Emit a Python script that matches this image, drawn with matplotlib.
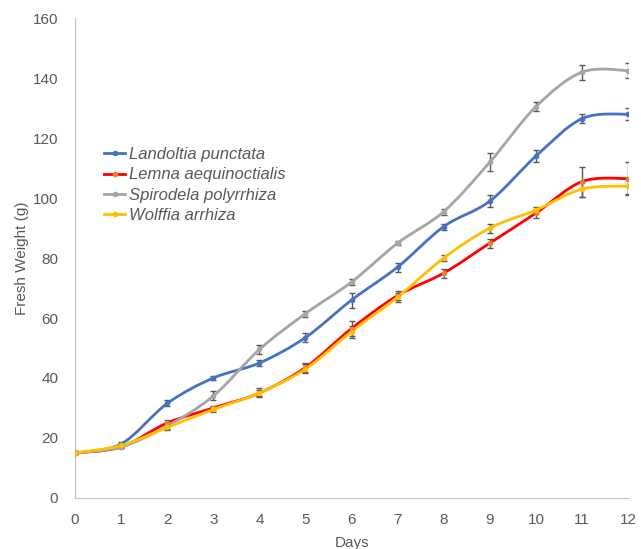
import numpy as np
import matplotlib
matplotlib.use("Agg")
from matplotlib import pyplot as plt
from matplotlib.path import Path
from matplotlib.patches import PathPatch
from matplotlib.lines import Line2D

plt.rcParams['font.family'] = ['Liberation Sans', 'DejaVu Sans']

days = np.arange(0, 13)
names = ["Landoltia punctata", "Lemna aequinoctialis", "Spirodela polyrrhiza", "Wolffia arrhiza"]
colors = ["#4472C4", "#FF0000", "#A5A5A5", "#FFC000"]
marker_colors = ["#4472C4", "#ED7D31", "#A5A5A5", "#FFC000"]

landoltia = [15, 18, 31.5, 40, 45, 53.5, 66, 77, 90.5, 99, 114, 126.5, 128]
lemna = [15, 17, 25, 30, 35, 43.5, 56.5, 67.5, 75, 85, 95, 105.5, 106.5]
spirodela = [15, 17, 24, 34, 49.5, 61.5, 72, 85, 95.5, 112, 130.5, 142, 142.5]
wolffia = [15, 17.5, 23.5, 29.5, 35, 43, 55.5, 67, 80, 90, 96, 103, 104]

landoltia_err = [0.5, 0.8, 1.0, 0.8, 1.0, 1.5, 2.5, 1.5, 1.0, 2.0, 2.0, 1.5, 2.0]
lemna_err = [0.5, 0.5, 1.0, 0.8, 1.0, 1.5, 2.5, 1.5, 1.5, 1.5, 1.5, 5.0, 5.5]
spirodela_err = [0.5, 0.5, 1.0, 1.5, 1.5, 1.0, 1.0, 0.8, 1.0, 3.0, 1.5, 2.5, 2.5]
wolffia_err = [0.5, 0.5, 1.0, 0.8, 1.5, 1.5, 2.0, 1.5, 1.0, 1.5, 1.0, 2.5, 2.5]

series = [landoltia, lemna, spirodela, wolffia]
errors = [landoltia_err, lemna_err, spirodela_err, wolffia_err]


def smooth_path(x, y):
    # Excel-style smoothed line: cubic Bezier through the points
    x = np.asarray(x, float)
    y = np.asarray(y, float)
    pts = np.column_stack([x, y])
    verts = [pts[0]]
    codes = [Path.MOVETO]
    n = len(pts)
    for i in range(n - 1):
        p0 = pts[i - 1] if i > 0 else pts[i]
        p1 = pts[i]
        p2 = pts[i + 1]
        p3 = pts[i + 2] if i + 2 < n else pts[i + 1]
        c1 = p1 + (p2 - p0) / 6.0
        c2 = p2 - (p3 - p1) / 6.0
        verts += [c1, c2, p2]
        codes += [Path.CURVE4] * 3
    return Path(verts, codes)


fig = plt.figure(figsize=(6.41, 5.49), dpi=100)
ax = fig.add_axes([0.117, 0.093, 0.863, 0.874])

for vals, err in zip(series, errors):
    ax.errorbar(days, vals, yerr=err, fmt='none', ecolor='#595959',
                elinewidth=1.0, capsize=2, capthick=1.0, zorder=2)
for vals, c, mc in zip(series, colors, marker_colors):
    ax.add_patch(PathPatch(smooth_path(days, vals), facecolor='none',
                           edgecolor=c, lw=2.0, zorder=3))
    ax.plot(days, vals, linestyle='none', marker='o', ms=3,
            color=mc, zorder=4)

ax.set_xlim(0, 12)
ax.set_ylim(0, 160)
ax.set_xticks(days)
ax.set_yticks(np.arange(0, 161, 20))
for s in ['top', 'right']:
    ax.spines[s].set_visible(False)
for s in ['left', 'bottom']:
    ax.spines[s].set_color('#BFBFBF')
ax.tick_params(axis='y', length=0, labelsize=11, labelcolor='#595959', pad=12)
ax.tick_params(axis='x', length=0, labelsize=11, labelcolor='#595959', pad=11)
ax.set_xlabel("Days", fontsize=11, color='#595959', labelpad=6)
ax.set_ylabel("Fresh Weight (g)", fontsize=11, color='#595959', labelpad=3)

handles = [Line2D([0], [0], color=c, lw=2.0, marker='o', ms=3,
                  markerfacecolor=mc, markeredgecolor=mc)
           for c, mc in zip(colors, marker_colors)]
leg = ax.legend(handles, names, loc='upper left', bbox_to_anchor=(0.04, 0.745),
                frameon=False, fontsize=12, handlelength=1.3,
                handletextpad=0.2, labelspacing=0.32, borderaxespad=0)
for t in leg.get_texts():
    t.set_fontstyle('italic')
    t.set_color('#595959')

fig.savefig("out.png", dpi=100)
